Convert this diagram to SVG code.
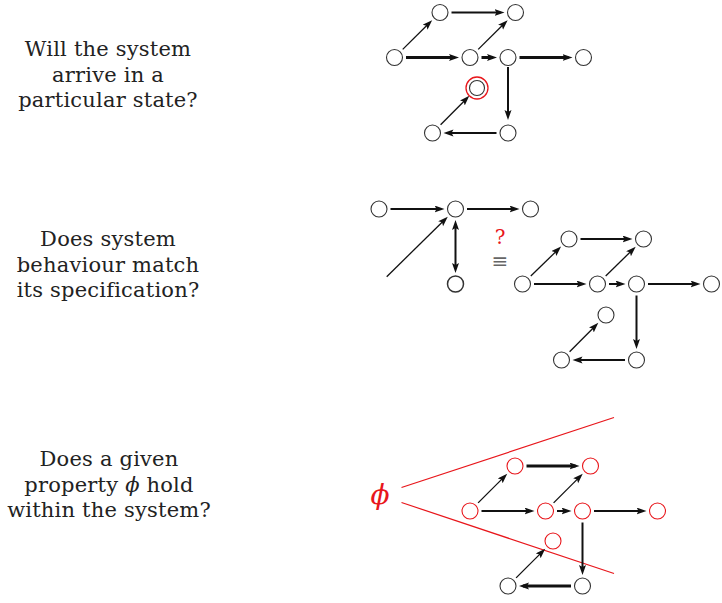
<svg xmlns="http://www.w3.org/2000/svg" width="722" height="603" viewBox="0 0 722 603">
<style>
.q{font-family:"DejaVu Serif","Liberation Serif",serif;font-size:21px;letter-spacing:0.2px;fill:#222;text-anchor:middle}
.n circle{fill:#fff;stroke:#333;stroke-width:1.1}
.r circle{fill:#fff;stroke:#e8161b;stroke-width:1.1}
.e line{stroke:#111;fill:none}
.w1{stroke-width:1.3}
.w2{stroke-width:2}
.w3{stroke-width:3}
.red{stroke:#e8161b;stroke-width:1.2;fill:none}
</style>
<defs>
<marker id="ah" markerUnits="userSpaceOnUse" markerWidth="12" markerHeight="10" refX="6" refY="3.5" orient="auto-start-reverse">
<path d="M0,0 L10,3.5 L0,7 L2,3.5 z" fill="#111"/>
</marker>
</defs>
<g id="questions">
<text class="q" x="108" y="56">Will the system</text>
<text class="q" x="108" y="81.5">arrive in a</text>
<text class="q" x="108" y="107">particular state?</text>
<text class="q" x="108" y="246">Does system</text>
<text class="q" x="108" y="271.5">behaviour match</text>
<text class="q" x="108" y="297">its specification?</text>
<text class="q" x="109" y="466">Does a given</text>
<text class="q" x="109" y="491.5">property <tspan font-style="italic">ϕ</tspan> hold</text>
<text class="q" x="109" y="517">within the system?</text>
</g>
<g id="property-cone">
<line class="red" x1="401.5" y1="487.5" x2="614" y2="417.5"/>
<line class="red" x1="401.5" y1="502.5" x2="614" y2="573.5"/>
<text x="380" y="504" font-family="DejaVu Serif, serif" font-style="italic" font-size="28" fill="#e8161b" text-anchor="middle">ϕ</text>
</g>
<g id="equiv">
<text x="500" y="244" font-family="DejaVu Serif, serif" font-size="20" fill="#e8161b" text-anchor="middle">?</text>
<text x="500" y="267.5" font-family="DejaVu Sans, sans-serif" font-size="20" fill="#666" text-anchor="middle">≡</text>
</g>
<g id="connectors" class="e">
<!-- diagram 1 -->
<line class="w1" x1="402.7" y1="49.4" x2="429.3" y2="23" marker-end="url(#ah)"/>
<line class="w2" x1="451.5" y1="12.5" x2="500.5" y2="12.5" marker-end="url(#ah)"/>
<line class="w3" x1="406" y1="57.5" x2="455" y2="57.5" marker-end="url(#ah)"/>
<line class="w1" x1="478.2" y1="49.4" x2="504.8" y2="23" marker-end="url(#ah)"/>
<line class="w3" x1="481.5" y1="57.5" x2="493" y2="57.5" marker-end="url(#ah)"/>
<line class="w3" x1="519.5" y1="57.5" x2="568.5" y2="57.5" marker-end="url(#ah)"/>
<line class="w2" x1="508" y1="67" x2="508" y2="116" marker-end="url(#ah)"/>
<line class="w2" x1="496.5" y1="133" x2="447.5" y2="133" marker-end="url(#ah)"/>
<line class="w1" x1="440.6" y1="124.8" x2="466.5" y2="98.7" marker-end="url(#ah)"/>
<!-- diagram 2 left -->
<line class="w2" x1="390.5" y1="209" x2="440.5" y2="209" marker-end="url(#ah)"/>
<line class="w2" x1="467" y1="209" x2="515.5" y2="209" marker-end="url(#ah)"/>
<line class="w1" x1="386.7" y1="276.7" x2="444.9" y2="219.5" marker-end="url(#ah)"/>
<line class="w2" x1="455.5" y1="224" x2="455.5" y2="269" marker-start="url(#ah)" marker-end="url(#ah)"/>
<!-- diagram 2 right -->
<line class="w1" x1="530.8" y1="276" x2="558.2" y2="249.4" marker-end="url(#ah)"/>
<line class="w2" x1="534" y1="284" x2="582.5" y2="284" marker-end="url(#ah)"/>
<line class="w2" x1="580.5" y1="239" x2="628.5" y2="239" marker-end="url(#ah)"/>
<line class="w1" x1="605.7" y1="276" x2="632.8" y2="249.5" marker-end="url(#ah)"/>
<line class="w2" x1="609" y1="284" x2="621.5" y2="284" marker-end="url(#ah)"/>
<line class="w2" x1="648" y1="284" x2="696.5" y2="284" marker-end="url(#ah)"/>
<line class="w2" x1="636.5" y1="295.5" x2="636.5" y2="345" marker-end="url(#ah)"/>
<line class="w2" x1="625" y1="360" x2="576.5" y2="360" marker-end="url(#ah)"/>
<line class="w1" x1="569.6" y1="351.8" x2="595.5" y2="325.7" marker-end="url(#ah)"/>
<!-- diagram 3 -->
<line class="w1" x1="478.1" y1="502.9" x2="504.4" y2="476.6" marker-end="url(#ah)"/>
<line class="w3" x1="526.5" y1="466" x2="575.5" y2="466" marker-end="url(#ah)"/>
<line class="w2" x1="481.5" y1="511" x2="530.5" y2="511" marker-end="url(#ah)"/>
<line class="w1" x1="553.6" y1="502.9" x2="579.9" y2="476.6" marker-end="url(#ah)"/>
<line class="w2" x1="557" y1="511" x2="567.5" y2="511" marker-end="url(#ah)"/>
<line class="w2" x1="594" y1="511" x2="642.5" y2="511" marker-end="url(#ah)"/>
<line class="w2" x1="582.5" y1="522.5" x2="582.5" y2="571" marker-end="url(#ah)"/>
<line class="w3" x1="571" y1="586" x2="523" y2="586" marker-end="url(#ah)"/>
<line class="w1" x1="516.1" y1="577.9" x2="542.4" y2="551.6" marker-end="url(#ah)"/>
</g>
<!-- diagram 1 nodes -->
<g id="s1a" class="n"><circle cx="394.5" cy="57.5" r="8"/></g>
<g id="s1b" class="n"><circle cx="440" cy="12.5" r="8"/></g>
<g id="s1c" class="n"><circle cx="515.5" cy="12.5" r="8"/></g>
<g id="s1d" class="n"><circle cx="470" cy="57.5" r="8"/></g>
<g id="s1e" class="n"><circle cx="508" cy="57.5" r="8"/></g>
<g id="s1f" class="n"><circle cx="583.5" cy="57.5" r="8"/></g>
<g id="s1g" class="n"><circle cx="477" cy="88" r="11" style="stroke:#e8161b;stroke-width:1.3"/><circle cx="477" cy="88" r="7.5"/></g>
<g id="s1h" class="n"><circle cx="432.5" cy="133" r="8"/></g>
<g id="s1i" class="n"><circle cx="508" cy="133" r="8"/></g>
<!-- diagram 2 nodes -->
<g id="p1" class="n"><circle cx="379" cy="209" r="8"/></g>
<g id="p2" class="n"><circle cx="455.5" cy="209" r="8"/></g>
<g id="p3" class="n"><circle cx="530.5" cy="209" r="8"/></g>
<g id="p4" class="n"><circle cx="455.5" cy="284" r="8" style="stroke-width:1.5"/></g>
<g id="s2a" class="n"><circle cx="522.5" cy="284" r="8"/></g>
<g id="s2b" class="n"><circle cx="569" cy="239" r="8"/></g>
<g id="s2c" class="n"><circle cx="643.5" cy="239" r="8"/></g>
<g id="s2d" class="n"><circle cx="597.5" cy="284" r="8"/></g>
<g id="s2e" class="n"><circle cx="636.5" cy="284" r="8"/></g>
<g id="s2f" class="n"><circle cx="711.5" cy="284" r="8"/></g>
<g id="s2g" class="n"><circle cx="606" cy="315" r="8"/></g>
<g id="s2h" class="n"><circle cx="561.5" cy="360" r="8"/></g>
<g id="s2i" class="n"><circle cx="636.5" cy="360" r="8"/></g>
<!-- diagram 3 nodes -->
<g id="s3a" class="r"><circle cx="470" cy="511" r="8"/></g>
<g id="s3b" class="r"><circle cx="515" cy="466" r="8"/></g>
<g id="s3c" class="r"><circle cx="590.5" cy="466" r="8"/></g>
<g id="s3d" class="r"><circle cx="545.5" cy="511" r="8"/></g>
<g id="s3e" class="r"><circle cx="582.5" cy="511" r="8"/></g>
<g id="s3f" class="r"><circle cx="657.5" cy="511" r="8"/></g>
<g id="s3g" class="r"><circle cx="553" cy="541" r="8"/></g>
<g id="s3h" class="n"><circle cx="508" cy="586" r="8"/></g>
<g id="s3i" class="n"><circle cx="582.5" cy="586" r="8"/></g>
</svg>
